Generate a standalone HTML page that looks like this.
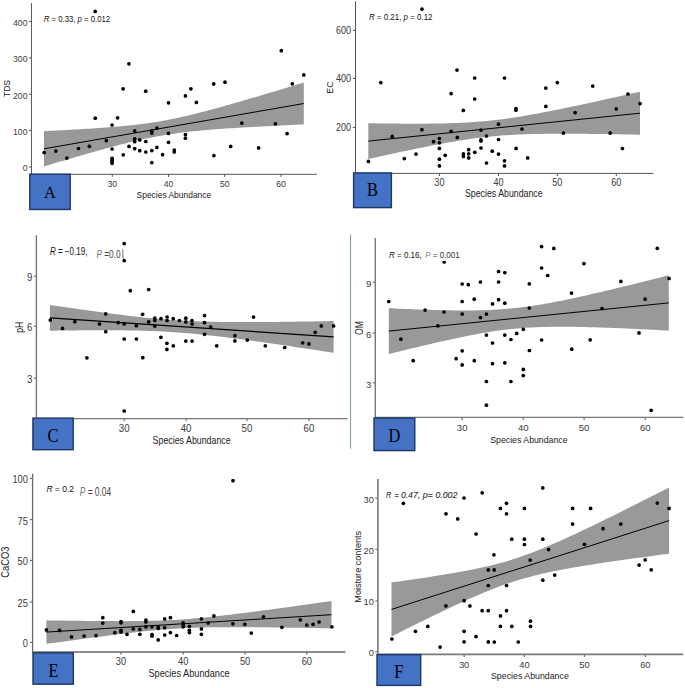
<!DOCTYPE html>
<html><head><meta charset="utf-8"><style>
html,body{margin:0;padding:0;background:#fff;}
svg{display:block;font-family:"Liberation Sans", sans-serif;}
</style></head><body>
<svg width="685" height="688" viewBox="0 0 685 688">
<rect width="685" height="688" fill="#fff"/>
<path d="M44.00,131.16 L47.25,131.00 L50.49,130.84 L53.74,130.67 L56.99,130.50 L60.24,130.33 L63.48,130.16 L66.73,129.98 L69.98,129.81 L73.23,129.62 L76.47,129.44 L79.72,129.25 L82.97,129.05 L86.22,128.85 L89.47,128.65 L92.71,128.44 L95.96,128.22 L99.21,128.00 L102.46,127.76 L105.70,127.52 L108.95,127.28 L112.20,127.02 L115.45,126.75 L118.69,126.47 L121.94,126.17 L125.19,125.86 L128.44,125.54 L131.68,125.20 L134.93,124.84 L138.18,124.46 L141.43,124.06 L144.67,123.63 L147.92,123.19 L151.17,122.72 L154.42,122.22 L157.66,121.69 L160.91,121.14 L164.16,120.56 L167.41,119.96 L170.65,119.32 L173.90,118.66 L177.15,117.98 L180.40,117.27 L183.64,116.54 L186.89,115.79 L190.14,115.02 L193.39,114.23 L196.63,113.42 L199.88,112.60 L203.13,111.76 L206.38,110.91 L209.62,110.05 L212.87,109.17 L216.12,108.29 L219.37,107.40 L222.61,106.50 L225.86,105.59 L229.11,104.67 L232.36,103.75 L235.60,102.82 L238.85,101.89 L242.10,100.95 L245.34,100.01 L248.59,99.07 L251.84,98.12 L255.09,97.16 L258.33,96.21 L261.58,95.25 L264.83,94.28 L268.08,93.32 L271.32,92.35 L274.57,91.38 L277.82,90.41 L281.07,89.44 L284.31,88.46 L287.56,87.49 L290.81,86.51 L294.06,85.53 L297.31,84.55 L300.55,83.56 L303.80,82.58 L303.80,124.42 L300.55,124.57 L297.31,124.72 L294.06,124.87 L290.81,125.02 L287.56,125.18 L284.31,125.33 L281.07,125.49 L277.82,125.65 L274.57,125.81 L271.32,125.97 L268.08,126.14 L264.83,126.31 L261.58,126.48 L258.33,126.65 L255.09,126.82 L251.84,127.00 L248.59,127.19 L245.34,127.37 L242.10,127.56 L238.85,127.76 L235.60,127.96 L232.36,128.16 L229.11,128.37 L225.86,128.59 L222.61,128.82 L219.37,129.05 L216.12,129.29 L212.87,129.54 L209.62,129.80 L206.38,130.07 L203.13,130.35 L199.88,130.64 L196.63,130.95 L193.39,131.28 L190.14,131.62 L186.89,131.98 L183.64,132.36 L180.40,132.76 L177.15,133.19 L173.90,133.64 L170.65,134.11 L167.41,134.61 L164.16,135.14 L160.91,135.69 L157.66,136.27 L154.42,136.88 L151.17,137.51 L147.92,138.17 L144.67,138.86 L141.43,139.57 L138.18,140.30 L134.93,141.05 L131.68,141.83 L128.44,142.62 L125.19,143.42 L121.94,144.25 L118.69,145.09 L115.45,145.94 L112.20,146.80 L108.95,147.67 L105.70,148.56 L102.46,149.45 L99.21,150.35 L95.96,151.26 L92.71,152.18 L89.47,153.10 L86.22,154.03 L82.97,154.96 L79.72,155.90 L76.47,156.84 L73.23,157.78 L69.98,158.73 L66.73,159.69 L63.48,160.65 L60.24,161.60 L56.99,162.57 L53.74,163.53 L50.49,164.50 L47.25,165.47 L44.00,166.44Z" fill="#999999"/>
<line x1="44.0" y1="148.8" x2="303.8" y2="103.5" stroke="#000" stroke-width="1.0"/>
<circle cx="95.2" cy="11.4" r="1.85"/>
<circle cx="128.9" cy="63.8" r="1.85"/>
<circle cx="281.3" cy="50.7" r="1.85"/>
<circle cx="123.1" cy="88.8" r="1.85"/>
<circle cx="145.7" cy="91.2" r="1.85"/>
<circle cx="185.4" cy="95.9" r="1.85"/>
<circle cx="190.9" cy="88.8" r="1.85"/>
<circle cx="213.7" cy="83.9" r="1.85"/>
<circle cx="225.0" cy="82.2" r="1.85"/>
<circle cx="292.3" cy="83.8" r="1.85"/>
<circle cx="303.8" cy="74.9" r="1.85"/>
<circle cx="95.3" cy="118.2" r="1.85"/>
<circle cx="117.6" cy="117.8" r="1.85"/>
<circle cx="112.1" cy="125.0" r="1.85"/>
<circle cx="168.5" cy="102.8" r="1.85"/>
<circle cx="196.4" cy="102.4" r="1.85"/>
<circle cx="44.2" cy="152.6" r="1.85"/>
<circle cx="55.8" cy="151.1" r="1.85"/>
<circle cx="66.8" cy="158.1" r="1.85"/>
<circle cx="78.5" cy="148.5" r="1.85"/>
<circle cx="89.4" cy="146.3" r="1.85"/>
<circle cx="106.3" cy="140.7" r="1.85"/>
<circle cx="112.1" cy="149.0" r="1.85"/>
<circle cx="112.1" cy="158.3" r="1.85"/>
<circle cx="112.1" cy="160.0" r="1.85"/>
<circle cx="112.1" cy="161.6" r="1.85"/>
<circle cx="112.1" cy="163.3" r="1.85"/>
<circle cx="123.2" cy="154.8" r="1.85"/>
<circle cx="129.0" cy="146.4" r="1.85"/>
<circle cx="134.7" cy="130.9" r="1.85"/>
<circle cx="134.7" cy="138.8" r="1.85"/>
<circle cx="134.7" cy="141.7" r="1.85"/>
<circle cx="134.7" cy="148.7" r="1.85"/>
<circle cx="139.7" cy="139.9" r="1.85"/>
<circle cx="139.7" cy="150.7" r="1.85"/>
<circle cx="145.8" cy="141.5" r="1.85"/>
<circle cx="145.8" cy="152.0" r="1.85"/>
<circle cx="151.8" cy="131.2" r="1.85"/>
<circle cx="151.8" cy="133.1" r="1.85"/>
<circle cx="151.8" cy="150.6" r="1.85"/>
<circle cx="151.8" cy="162.6" r="1.85"/>
<circle cx="156.9" cy="128.0" r="1.85"/>
<circle cx="156.9" cy="147.4" r="1.85"/>
<circle cx="162.6" cy="154.7" r="1.85"/>
<circle cx="168.5" cy="133.4" r="1.85"/>
<circle cx="168.5" cy="142.3" r="1.85"/>
<circle cx="174.3" cy="150.1" r="1.85"/>
<circle cx="174.3" cy="152.0" r="1.85"/>
<circle cx="185.4" cy="134.5" r="1.85"/>
<circle cx="185.4" cy="138.2" r="1.85"/>
<circle cx="213.9" cy="155.6" r="1.85"/>
<circle cx="241.8" cy="123.1" r="1.85"/>
<circle cx="275.4" cy="123.8" r="1.85"/>
<circle cx="287.1" cy="133.6" r="1.85"/>
<circle cx="230.7" cy="146.4" r="1.85"/>
<circle cx="258.6" cy="147.9" r="1.85"/>
<path d="M31.45,3.2 L31.45,174.3 L316.9,174.3" fill="none" stroke="#555" stroke-width="1.0"/>
<line x1="28.849999999999998" y1="167.0" x2="31.45" y2="167.0" stroke="#555" stroke-width="1.0"/>
<text transform="translate(27.45,171.40) scale(0.91,1)" text-anchor="end" font-size="9.5" fill="#3a3a3a">0</text>
<line x1="28.849999999999998" y1="130.6" x2="31.45" y2="130.6" stroke="#555" stroke-width="1.0"/>
<text transform="translate(27.45,135.00) scale(0.91,1)" text-anchor="end" font-size="9.5" fill="#3a3a3a">100</text>
<line x1="28.849999999999998" y1="94.2" x2="31.45" y2="94.2" stroke="#555" stroke-width="1.0"/>
<text transform="translate(27.45,98.60) scale(0.91,1)" text-anchor="end" font-size="9.5" fill="#3a3a3a">200</text>
<line x1="28.849999999999998" y1="57.9" x2="31.45" y2="57.9" stroke="#555" stroke-width="1.0"/>
<text transform="translate(27.45,62.30) scale(0.91,1)" text-anchor="end" font-size="9.5" fill="#3a3a3a">300</text>
<line x1="28.849999999999998" y1="21.5" x2="31.45" y2="21.5" stroke="#555" stroke-width="1.0"/>
<text transform="translate(27.45,25.90) scale(0.91,1)" text-anchor="end" font-size="9.5" fill="#3a3a3a">400</text>
<line x1="112.3" y1="174.3" x2="112.3" y2="176.9" stroke="#555" stroke-width="1.0"/>
<text transform="translate(112.3,186.6) scale(0.91,1)" text-anchor="middle" font-size="9.5" fill="#3a3a3a">30</text>
<line x1="168.5" y1="174.3" x2="168.5" y2="176.9" stroke="#555" stroke-width="1.0"/>
<text transform="translate(168.5,186.6) scale(0.91,1)" text-anchor="middle" font-size="9.5" fill="#3a3a3a">40</text>
<line x1="224.7" y1="174.3" x2="224.7" y2="176.9" stroke="#555" stroke-width="1.0"/>
<text transform="translate(224.7,186.6) scale(0.91,1)" text-anchor="middle" font-size="9.5" fill="#3a3a3a">50</text>
<line x1="281.1" y1="174.3" x2="281.1" y2="176.9" stroke="#555" stroke-width="1.0"/>
<text transform="translate(281.1,186.6) scale(0.91,1)" text-anchor="middle" font-size="9.5" fill="#3a3a3a">60</text>
<text x="136.6" y="197.7" font-size="9.8" fill="#222" textLength="74.6" lengthAdjust="spacingAndGlyphs">Species Abundance</text>
<text transform="translate(10.0,88.5) rotate(-90)" x="0" y="0" text-anchor="middle" font-size="9.8" fill="#222" textLength="17.0" lengthAdjust="spacingAndGlyphs">TDS</text>
<text x="43.8" y="21.9" font-size="9.6" fill="#111" textLength="66.3" lengthAdjust="spacingAndGlyphs"><tspan font-style="italic">R</tspan> = 0.33, <tspan font-style="italic">p</tspan> = 0.012</text>
<rect x="29.8" y="174.2" width="40.39999999999999" height="35.3" fill="#4472c4" stroke="#1f3763" stroke-width="1.4"/>
<text transform="translate(50.0,198.1) scale(0.93,1)" text-anchor="middle" font-family="\"Liberation Serif\", serif" font-size="17.6" fill="#000">A</text>
<path d="M368.30,123.24 L371.70,123.29 L375.09,123.34 L378.49,123.39 L381.88,123.43 L385.28,123.48 L388.68,123.52 L392.07,123.55 L395.47,123.58 L398.87,123.61 L402.26,123.63 L405.66,123.65 L409.06,123.67 L412.45,123.67 L415.85,123.68 L419.24,123.67 L422.64,123.66 L426.04,123.64 L429.43,123.61 L432.83,123.57 L436.23,123.53 L439.62,123.47 L443.02,123.40 L446.41,123.32 L449.81,123.22 L453.21,123.11 L456.60,122.99 L460.00,122.84 L463.39,122.68 L466.79,122.50 L470.19,122.29 L473.58,122.07 L476.98,121.82 L480.38,121.55 L483.77,121.25 L487.17,120.93 L490.56,120.58 L493.96,120.20 L497.36,119.81 L500.75,119.38 L504.15,118.94 L507.55,118.47 L510.94,117.97 L514.34,117.46 L517.74,116.93 L521.13,116.38 L524.53,115.81 L527.92,115.22 L531.32,114.62 L534.72,114.01 L538.11,113.38 L541.51,112.74 L544.90,112.09 L548.30,111.43 L551.70,110.76 L555.09,110.08 L558.49,109.40 L561.89,108.71 L565.28,108.01 L568.68,107.30 L572.08,106.59 L575.47,105.88 L578.87,105.16 L582.26,104.43 L585.66,103.70 L589.06,102.97 L592.45,102.23 L595.85,101.49 L599.25,100.75 L602.64,100.01 L606.04,99.26 L609.43,98.51 L612.83,97.76 L616.23,97.00 L619.62,96.25 L623.02,95.49 L626.41,94.73 L629.81,93.97 L633.21,93.20 L636.60,92.44 L640.00,91.67 L640.00,134.73 L636.60,134.66 L633.21,134.59 L629.81,134.53 L626.41,134.46 L623.02,134.40 L619.62,134.34 L616.23,134.28 L612.83,134.22 L609.43,134.17 L606.04,134.12 L602.64,134.07 L599.25,134.02 L595.85,133.97 L592.45,133.93 L589.06,133.89 L585.66,133.86 L582.26,133.83 L578.87,133.80 L575.47,133.78 L572.08,133.76 L568.68,133.75 L565.28,133.74 L561.89,133.74 L558.49,133.74 L555.09,133.75 L551.70,133.77 L548.30,133.80 L544.90,133.84 L541.51,133.89 L538.11,133.95 L534.72,134.02 L531.32,134.10 L527.92,134.20 L524.53,134.31 L521.13,134.44 L517.74,134.58 L514.34,134.75 L510.94,134.93 L507.55,135.14 L504.15,135.36 L500.75,135.61 L497.36,135.89 L493.96,136.19 L490.56,136.51 L487.17,136.86 L483.77,137.24 L480.38,137.64 L476.98,138.06 L473.58,138.51 L470.19,138.98 L466.79,139.48 L463.39,139.99 L460.00,140.53 L456.60,141.08 L453.21,141.65 L449.81,142.24 L446.41,142.84 L443.02,143.45 L439.62,144.08 L436.23,144.72 L432.83,145.37 L429.43,146.03 L426.04,146.70 L422.64,147.38 L419.24,148.07 L415.85,148.76 L412.45,149.46 L409.06,150.16 L405.66,150.88 L402.26,151.59 L398.87,152.31 L395.47,153.04 L392.07,153.77 L388.68,154.50 L385.28,155.24 L381.88,155.98 L378.49,156.72 L375.09,157.46 L371.70,158.21 L368.30,158.96Z" fill="#999999"/>
<line x1="368.3" y1="141.1" x2="640.0" y2="113.2" stroke="#000" stroke-width="1.0"/>
<circle cx="422.0" cy="9.1" r="1.85"/>
<circle cx="380.8" cy="82.6" r="1.85"/>
<circle cx="457.0" cy="70.1" r="1.85"/>
<circle cx="474.7" cy="78.0" r="1.85"/>
<circle cx="504.5" cy="78.0" r="1.85"/>
<circle cx="451.1" cy="93.6" r="1.85"/>
<circle cx="474.7" cy="99.0" r="1.85"/>
<circle cx="463.3" cy="110.4" r="1.85"/>
<circle cx="515.9" cy="108.6" r="1.85"/>
<circle cx="515.9" cy="110.2" r="1.85"/>
<circle cx="545.8" cy="88.1" r="1.85"/>
<circle cx="557.3" cy="82.6" r="1.85"/>
<circle cx="545.8" cy="106.4" r="1.85"/>
<circle cx="592.7" cy="86.1" r="1.85"/>
<circle cx="627.9" cy="94.0" r="1.85"/>
<circle cx="640.0" cy="103.6" r="1.85"/>
<circle cx="616.3" cy="108.9" r="1.85"/>
<circle cx="575.1" cy="112.6" r="1.85"/>
<circle cx="563.4" cy="133.1" r="1.85"/>
<circle cx="610.2" cy="133.1" r="1.85"/>
<circle cx="622.4" cy="148.5" r="1.85"/>
<circle cx="421.9" cy="129.7" r="1.85"/>
<circle cx="392.2" cy="136.4" r="1.85"/>
<circle cx="451.1" cy="131.4" r="1.85"/>
<circle cx="439.4" cy="138.5" r="1.85"/>
<circle cx="433.5" cy="141.7" r="1.85"/>
<circle cx="439.4" cy="142.8" r="1.85"/>
<circle cx="439.4" cy="148.4" r="1.85"/>
<circle cx="445.2" cy="155.3" r="1.85"/>
<circle cx="416.0" cy="154.1" r="1.85"/>
<circle cx="404.3" cy="158.6" r="1.85"/>
<circle cx="368.4" cy="161.4" r="1.85"/>
<circle cx="439.4" cy="159.2" r="1.85"/>
<circle cx="439.4" cy="165.9" r="1.85"/>
<circle cx="457.3" cy="137.4" r="1.85"/>
<circle cx="481.0" cy="130.1" r="1.85"/>
<circle cx="498.5" cy="124.2" r="1.85"/>
<circle cx="522.0" cy="129.0" r="1.85"/>
<circle cx="486.5" cy="136.0" r="1.85"/>
<circle cx="481.0" cy="139.9" r="1.85"/>
<circle cx="481.0" cy="141.1" r="1.85"/>
<circle cx="498.5" cy="139.5" r="1.85"/>
<circle cx="481.0" cy="148.0" r="1.85"/>
<circle cx="516.1" cy="148.4" r="1.85"/>
<circle cx="468.7" cy="149.7" r="1.85"/>
<circle cx="474.8" cy="152.3" r="1.85"/>
<circle cx="492.3" cy="151.2" r="1.85"/>
<circle cx="463.4" cy="153.8" r="1.85"/>
<circle cx="463.4" cy="156.4" r="1.85"/>
<circle cx="468.7" cy="153.8" r="1.85"/>
<circle cx="468.7" cy="157.9" r="1.85"/>
<circle cx="498.5" cy="154.1" r="1.85"/>
<circle cx="527.7" cy="157.9" r="1.85"/>
<circle cx="486.5" cy="163.0" r="1.85"/>
<circle cx="504.5" cy="160.8" r="1.85"/>
<circle cx="504.5" cy="165.9" r="1.85"/>
<path d="M355.5,1.2 L355.5,173.4 L653.5,173.4" fill="none" stroke="#555555" stroke-width="1.0"/>
<line x1="352.9" y1="127.4" x2="355.5" y2="127.4" stroke="#555555" stroke-width="1.0"/>
<text transform="translate(351.1,131.30) scale(0.9,1)" text-anchor="end" font-size="10.1" fill="#3a3a3a">200</text>
<line x1="352.9" y1="78.5" x2="355.5" y2="78.5" stroke="#555555" stroke-width="1.0"/>
<text transform="translate(351.1,82.40) scale(0.9,1)" text-anchor="end" font-size="10.1" fill="#3a3a3a">400</text>
<line x1="352.9" y1="30.4" x2="355.5" y2="30.4" stroke="#555555" stroke-width="1.0"/>
<text transform="translate(351.1,34.30) scale(0.9,1)" text-anchor="end" font-size="10.1" fill="#3a3a3a">600</text>
<line x1="439.4" y1="173.4" x2="439.4" y2="176.0" stroke="#555555" stroke-width="1.0"/>
<text transform="translate(439.4,185.6) scale(0.9,1)" text-anchor="middle" font-size="10.1" fill="#3a3a3a">30</text>
<line x1="498.5" y1="173.4" x2="498.5" y2="176.0" stroke="#555555" stroke-width="1.0"/>
<text transform="translate(498.5,185.6) scale(0.9,1)" text-anchor="middle" font-size="10.1" fill="#3a3a3a">40</text>
<line x1="557.3" y1="173.4" x2="557.3" y2="176.0" stroke="#555555" stroke-width="1.0"/>
<text transform="translate(557.3,185.6) scale(0.9,1)" text-anchor="middle" font-size="10.1" fill="#3a3a3a">50</text>
<line x1="616.3" y1="173.4" x2="616.3" y2="176.0" stroke="#555555" stroke-width="1.0"/>
<text transform="translate(616.3,185.6) scale(0.9,1)" text-anchor="middle" font-size="10.1" fill="#3a3a3a">60</text>
<text x="465.0" y="196.9" font-size="10.0" fill="#222" textLength="77.6" lengthAdjust="spacingAndGlyphs">Species Abundance</text>
<text transform="translate(333.4,87.5) rotate(-90)" x="0" y="0" text-anchor="middle" font-size="9.8" fill="#222" textLength="12.4" lengthAdjust="spacingAndGlyphs">EC</text>
<text x="368.9" y="19.6" font-size="9.6" fill="#111" textLength="63.6" lengthAdjust="spacingAndGlyphs"><tspan font-style="italic">R</tspan> = 0.21, <tspan font-style="italic">p</tspan> = 0.12</text>
<rect x="353.6" y="172.9" width="37.8" height="34.699999999999974" fill="#4472c4" stroke="#1f3763" stroke-width="1.4"/>
<text transform="translate(372.4,196.4) scale(0.88,1)" text-anchor="middle" font-family="\"Liberation Serif\", serif" font-size="18.6" fill="#000">B</text>
<path d="M49.90,304.91 L53.45,305.43 L56.99,305.96 L60.54,306.48 L64.09,307.00 L67.63,307.52 L71.18,308.03 L74.72,308.54 L78.27,309.05 L81.82,309.56 L85.36,310.06 L88.91,310.56 L92.46,311.05 L96.00,311.54 L99.55,312.03 L103.09,312.51 L106.64,312.99 L110.19,313.46 L113.73,313.92 L117.28,314.37 L120.83,314.82 L124.37,315.26 L127.92,315.69 L131.46,316.11 L135.01,316.52 L138.56,316.92 L142.10,317.31 L145.65,317.69 L149.20,318.05 L152.74,318.39 L156.29,318.73 L159.83,319.04 L163.38,319.34 L166.93,319.62 L170.47,319.89 L174.02,320.14 L177.56,320.37 L181.11,320.58 L184.66,320.77 L188.20,320.95 L191.75,321.11 L195.30,321.26 L198.84,321.39 L202.39,321.50 L205.94,321.61 L209.48,321.70 L213.03,321.77 L216.57,321.84 L220.12,321.90 L223.67,321.94 L227.21,321.98 L230.76,322.01 L234.31,322.03 L237.85,322.05 L241.40,322.06 L244.94,322.06 L248.49,322.06 L252.04,322.05 L255.58,322.03 L259.13,322.02 L262.68,322.00 L266.22,321.97 L269.77,321.94 L273.31,321.91 L276.86,321.88 L280.41,321.84 L283.95,321.80 L287.50,321.76 L291.05,321.71 L294.59,321.66 L298.14,321.62 L301.68,321.57 L305.23,321.51 L308.78,321.46 L312.32,321.41 L315.87,321.35 L319.42,321.29 L322.96,321.23 L326.51,321.17 L330.05,321.11 L333.60,321.05 L333.60,352.75 L330.05,352.21 L326.51,351.67 L322.96,351.13 L319.42,350.60 L315.87,350.06 L312.32,349.53 L308.78,349.00 L305.23,348.47 L301.68,347.94 L298.14,347.41 L294.59,346.88 L291.05,346.36 L287.50,345.84 L283.95,345.32 L280.41,344.80 L276.86,344.28 L273.31,343.77 L269.77,343.26 L266.22,342.76 L262.68,342.25 L259.13,341.76 L255.58,341.26 L252.04,340.77 L248.49,340.28 L244.94,339.80 L241.40,339.33 L237.85,338.86 L234.31,338.40 L230.76,337.94 L227.21,337.49 L223.67,337.05 L220.12,336.62 L216.57,336.20 L213.03,335.79 L209.48,335.39 L205.94,335.00 L202.39,334.63 L198.84,334.27 L195.30,333.92 L191.75,333.59 L188.20,333.27 L184.66,332.97 L181.11,332.69 L177.56,332.42 L174.02,332.18 L170.47,331.95 L166.93,331.73 L163.38,331.54 L159.83,331.36 L156.29,331.20 L152.74,331.05 L149.20,330.92 L145.65,330.81 L142.10,330.70 L138.56,330.61 L135.01,330.54 L131.46,330.47 L127.92,330.41 L124.37,330.37 L120.83,330.33 L117.28,330.30 L113.73,330.28 L110.19,330.26 L106.64,330.25 L103.09,330.25 L99.55,330.25 L96.00,330.26 L92.46,330.28 L88.91,330.29 L85.36,330.31 L81.82,330.34 L78.27,330.37 L74.72,330.40 L71.18,330.43 L67.63,330.47 L64.09,330.51 L60.54,330.55 L56.99,330.60 L53.45,330.64 L49.90,330.69Z" fill="#999999"/>
<line x1="49.9" y1="317.8" x2="333.6" y2="336.9" stroke="#000" stroke-width="1.3"/>
<circle cx="124.2" cy="243.6" r="1.85"/>
<circle cx="124.2" cy="260.6" r="1.85"/>
<circle cx="130.3" cy="290.7" r="1.85"/>
<circle cx="148.7" cy="289.5" r="1.85"/>
<circle cx="50.3" cy="320.1" r="1.85"/>
<circle cx="62.5" cy="328.4" r="1.85"/>
<circle cx="74.8" cy="321.7" r="1.85"/>
<circle cx="99.5" cy="324.0" r="1.85"/>
<circle cx="105.7" cy="313.8" r="1.85"/>
<circle cx="105.7" cy="331.7" r="1.85"/>
<circle cx="118.2" cy="322.6" r="1.85"/>
<circle cx="124.2" cy="324.0" r="1.85"/>
<circle cx="136.4" cy="325.7" r="1.85"/>
<circle cx="142.6" cy="314.3" r="1.85"/>
<circle cx="148.7" cy="321.9" r="1.85"/>
<circle cx="154.8" cy="318.2" r="1.85"/>
<circle cx="154.8" cy="320.5" r="1.85"/>
<circle cx="154.8" cy="326.1" r="1.85"/>
<circle cx="161.0" cy="318.7" r="1.85"/>
<circle cx="167.1" cy="317.0" r="1.85"/>
<circle cx="167.1" cy="320.5" r="1.85"/>
<circle cx="173.2" cy="318.7" r="1.85"/>
<circle cx="179.4" cy="320.5" r="1.85"/>
<circle cx="185.8" cy="318.2" r="1.85"/>
<circle cx="185.8" cy="321.9" r="1.85"/>
<circle cx="192.0" cy="320.5" r="1.85"/>
<circle cx="192.0" cy="324.0" r="1.85"/>
<circle cx="204.5" cy="315.6" r="1.85"/>
<circle cx="204.5" cy="322.6" r="1.85"/>
<circle cx="210.7" cy="327.0" r="1.85"/>
<circle cx="204.5" cy="334.3" r="1.85"/>
<circle cx="124.2" cy="339.0" r="1.85"/>
<circle cx="136.4" cy="339.0" r="1.85"/>
<circle cx="160.9" cy="337.3" r="1.85"/>
<circle cx="166.9" cy="343.3" r="1.85"/>
<circle cx="166.9" cy="349.4" r="1.85"/>
<circle cx="173.3" cy="345.8" r="1.85"/>
<circle cx="185.8" cy="341.1" r="1.85"/>
<circle cx="192.1" cy="341.1" r="1.85"/>
<circle cx="216.7" cy="345.8" r="1.85"/>
<circle cx="86.9" cy="357.8" r="1.85"/>
<circle cx="142.8" cy="357.7" r="1.85"/>
<circle cx="124.2" cy="411.0" r="1.85"/>
<circle cx="253.5" cy="317.1" r="1.85"/>
<circle cx="234.9" cy="335.7" r="1.85"/>
<circle cx="234.9" cy="340.9" r="1.85"/>
<circle cx="247.3" cy="340.1" r="1.85"/>
<circle cx="265.3" cy="345.8" r="1.85"/>
<circle cx="284.7" cy="347.5" r="1.85"/>
<circle cx="302.7" cy="342.8" r="1.85"/>
<circle cx="308.9" cy="343.9" r="1.85"/>
<circle cx="315.2" cy="332.3" r="1.85"/>
<circle cx="321.3" cy="325.9" r="1.85"/>
<circle cx="333.6" cy="325.9" r="1.85"/>
<path d="M36.4,235.2 L36.4,418.6 L347.6,418.6" fill="none" stroke="#787878" stroke-width="1.4"/>
<line x1="33.8" y1="378.2" x2="36.4" y2="378.2" stroke="#787878" stroke-width="1.2"/>
<text transform="translate(32.4,382.60) scale(0.95,1)" text-anchor="end" font-size="10.2" fill="#3a3a3a">3</text>
<line x1="33.8" y1="326.3" x2="36.4" y2="326.3" stroke="#787878" stroke-width="1.2"/>
<text transform="translate(32.4,330.70) scale(0.95,1)" text-anchor="end" font-size="10.2" fill="#3a3a3a">6</text>
<line x1="33.8" y1="276.2" x2="36.4" y2="276.2" stroke="#787878" stroke-width="1.2"/>
<text transform="translate(32.4,280.60) scale(0.95,1)" text-anchor="end" font-size="10.2" fill="#3a3a3a">9</text>
<line x1="124.2" y1="418.6" x2="124.2" y2="421.20000000000005" stroke="#787878" stroke-width="1.2"/>
<text transform="translate(124.2,432.1) scale(0.95,1)" text-anchor="middle" font-size="10.2" fill="#3a3a3a">30</text>
<line x1="186.1" y1="418.6" x2="186.1" y2="421.20000000000005" stroke="#787878" stroke-width="1.2"/>
<text transform="translate(186.1,432.1) scale(0.95,1)" text-anchor="middle" font-size="10.2" fill="#3a3a3a">40</text>
<line x1="246.9" y1="418.6" x2="246.9" y2="421.20000000000005" stroke="#787878" stroke-width="1.2"/>
<text transform="translate(246.9,432.1) scale(0.95,1)" text-anchor="middle" font-size="10.2" fill="#3a3a3a">50</text>
<line x1="309.0" y1="418.6" x2="309.0" y2="421.20000000000005" stroke="#787878" stroke-width="1.2"/>
<text transform="translate(309.0,432.1) scale(0.95,1)" text-anchor="middle" font-size="10.2" fill="#3a3a3a">60</text>
<text x="152.6" y="444.3" font-size="10.6" fill="#222" textLength="78.1" lengthAdjust="spacingAndGlyphs">Species Abundance</text>
<text transform="translate(22.6,327.3) rotate(-90)" x="0" y="0" text-anchor="middle" font-size="10.4" fill="#222" textLength="11.0" lengthAdjust="spacingAndGlyphs">pH</text>
<text x="49.9" y="254.7" font-size="10" fill="#111" textLength="37.5" lengthAdjust="spacingAndGlyphs"><tspan font-style="italic">R</tspan> = −0.19,</text>
<text x="96.4" y="258.4" font-size="11.8" fill="#555" textLength="24.2" lengthAdjust="spacingAndGlyphs"><tspan font-style="italic" fill="#777">P</tspan><tspan fill="#444"> =0.0</tspan></text>
<path d="M122.0,249.8 L122.9,249.8 L122.9,258.4 L124.0,258.4" fill="none" stroke="#666" stroke-width="0.9"/>
<line x1="350.6" y1="234.6" x2="350.6" y2="448.7" stroke="#7d999e" stroke-width="1"/>
<rect x="32.9" y="418.1" width="40.3" height="31.600000000000012" fill="#4472c4" stroke="#1f3763" stroke-width="1.4"/>
<text transform="translate(52.9,442.0) scale(0.88,1)" text-anchor="middle" font-family="\"Liberation Serif\", serif" font-size="18.6" fill="#000">C</text>
<circle cx="444.2" cy="262.0" r="1.85"/>
<path d="M388.80,308.19 L392.30,308.35 L395.80,308.51 L399.30,308.66 L402.80,308.81 L406.30,308.96 L409.80,309.11 L413.30,309.24 L416.80,309.38 L420.30,309.51 L423.80,309.63 L427.30,309.75 L430.80,309.86 L434.30,309.96 L437.80,310.06 L441.30,310.14 L444.80,310.22 L448.30,310.29 L451.80,310.35 L455.30,310.39 L458.80,310.42 L462.30,310.44 L465.80,310.45 L469.30,310.43 L472.80,310.40 L476.30,310.35 L479.80,310.28 L483.30,310.19 L486.80,310.07 L490.30,309.93 L493.80,309.76 L497.30,309.56 L500.80,309.34 L504.30,309.08 L507.80,308.79 L511.30,308.47 L514.80,308.12 L518.30,307.73 L521.80,307.31 L525.30,306.87 L528.80,306.39 L532.30,305.88 L535.80,305.34 L539.30,304.78 L542.80,304.19 L546.30,303.58 L549.80,302.94 L553.30,302.29 L556.80,301.61 L560.30,300.92 L563.80,300.21 L567.30,299.49 L570.80,298.75 L574.30,298.00 L577.80,297.23 L581.30,296.46 L584.80,295.68 L588.30,294.89 L591.80,294.09 L595.30,293.28 L598.80,292.46 L602.30,291.64 L605.80,290.81 L609.30,289.98 L612.80,289.14 L616.30,288.29 L619.80,287.45 L623.30,286.59 L626.80,285.74 L630.30,284.88 L633.80,284.01 L637.30,283.15 L640.80,282.28 L644.30,281.40 L647.80,280.53 L651.30,279.65 L654.80,278.77 L658.30,277.89 L661.80,277.01 L665.30,276.12 L668.80,275.24 L668.80,330.56 L665.30,330.38 L661.80,330.20 L658.30,330.02 L654.80,329.85 L651.30,329.67 L647.80,329.50 L644.30,329.33 L640.80,329.16 L637.30,329.00 L633.80,328.84 L630.30,328.68 L626.80,328.52 L623.30,328.37 L619.80,328.22 L616.30,328.08 L612.80,327.94 L609.30,327.81 L605.80,327.68 L602.30,327.56 L598.80,327.44 L595.30,327.33 L591.80,327.22 L588.30,327.13 L584.80,327.04 L581.30,326.96 L577.80,326.90 L574.30,326.84 L570.80,326.79 L567.30,326.76 L563.80,326.74 L560.30,326.74 L556.80,326.75 L553.30,326.78 L549.80,326.83 L546.30,326.90 L542.80,326.99 L539.30,327.11 L535.80,327.25 L532.30,327.42 L528.80,327.61 L525.30,327.84 L521.80,328.10 L518.30,328.38 L514.80,328.70 L511.30,329.05 L507.80,329.44 L504.30,329.86 L500.80,330.30 L497.30,330.78 L493.80,331.29 L490.30,331.83 L486.80,332.39 L483.30,332.98 L479.80,333.59 L476.30,334.22 L472.80,334.88 L469.30,335.55 L465.80,336.24 L462.30,336.95 L458.80,337.68 L455.30,338.41 L451.80,339.16 L448.30,339.93 L444.80,340.70 L441.30,341.48 L437.80,342.27 L434.30,343.07 L430.80,343.88 L427.30,344.70 L423.80,345.52 L420.30,346.35 L416.80,347.18 L413.30,348.02 L409.80,348.86 L406.30,349.71 L402.80,350.57 L399.30,351.42 L395.80,352.28 L392.30,353.15 L388.80,354.01Z" fill="#999999"/>
<line x1="388.8" y1="331.1" x2="668.8" y2="302.9" stroke="#000" stroke-width="1.0"/>
<circle cx="388.8" cy="301.5" r="1.85"/>
<circle cx="400.9" cy="339.2" r="1.85"/>
<circle cx="425.1" cy="310.1" r="1.85"/>
<circle cx="437.9" cy="325.8" r="1.85"/>
<circle cx="444.0" cy="312.0" r="1.85"/>
<circle cx="462.2" cy="284.0" r="1.85"/>
<circle cx="468.3" cy="284.7" r="1.85"/>
<circle cx="462.2" cy="301.5" r="1.85"/>
<circle cx="462.2" cy="314.1" r="1.85"/>
<circle cx="474.2" cy="299.2" r="1.85"/>
<circle cx="462.2" cy="350.8" r="1.85"/>
<circle cx="541.6" cy="246.6" r="1.85"/>
<circle cx="553.8" cy="248.4" r="1.85"/>
<circle cx="583.9" cy="263.6" r="1.85"/>
<circle cx="498.6" cy="271.5" r="1.85"/>
<circle cx="504.8" cy="272.6" r="1.85"/>
<circle cx="541.6" cy="268.0" r="1.85"/>
<circle cx="547.7" cy="275.5" r="1.85"/>
<circle cx="480.4" cy="282.0" r="1.85"/>
<circle cx="498.6" cy="282.0" r="1.85"/>
<circle cx="529.3" cy="283.8" r="1.85"/>
<circle cx="492.5" cy="303.9" r="1.85"/>
<circle cx="498.6" cy="299.7" r="1.85"/>
<circle cx="504.8" cy="303.2" r="1.85"/>
<circle cx="529.3" cy="308.0" r="1.85"/>
<circle cx="571.5" cy="293.1" r="1.85"/>
<circle cx="480.4" cy="317.6" r="1.85"/>
<circle cx="486.4" cy="314.1" r="1.85"/>
<circle cx="523.3" cy="329.3" r="1.85"/>
<circle cx="486.4" cy="335.1" r="1.85"/>
<circle cx="504.8" cy="335.1" r="1.85"/>
<circle cx="516.7" cy="333.4" r="1.85"/>
<circle cx="510.9" cy="339.5" r="1.85"/>
<circle cx="492.5" cy="343.0" r="1.85"/>
<circle cx="541.6" cy="340.0" r="1.85"/>
<circle cx="529.4" cy="350.5" r="1.85"/>
<circle cx="571.7" cy="349.2" r="1.85"/>
<circle cx="657.3" cy="248.3" r="1.85"/>
<circle cx="620.9" cy="281.4" r="1.85"/>
<circle cx="669.1" cy="278.5" r="1.85"/>
<circle cx="645.1" cy="299.2" r="1.85"/>
<circle cx="602.0" cy="308.5" r="1.85"/>
<circle cx="639.0" cy="332.9" r="1.85"/>
<circle cx="590.2" cy="339.8" r="1.85"/>
<circle cx="413.2" cy="360.7" r="1.85"/>
<circle cx="456.1" cy="358.7" r="1.85"/>
<circle cx="462.2" cy="364.9" r="1.85"/>
<circle cx="474.3" cy="360.7" r="1.85"/>
<circle cx="492.5" cy="363.7" r="1.85"/>
<circle cx="504.8" cy="362.8" r="1.85"/>
<circle cx="523.3" cy="369.4" r="1.85"/>
<circle cx="523.3" cy="375.6" r="1.85"/>
<circle cx="486.4" cy="381.5" r="1.85"/>
<circle cx="510.9" cy="381.5" r="1.85"/>
<circle cx="486.4" cy="405.2" r="1.85"/>
<circle cx="651.2" cy="410.3" r="1.85"/>
<path d="M375.3,238.0 L375.3,417.4 L683.4,417.4" fill="none" stroke="#787878" stroke-width="1.4"/>
<line x1="372.7" y1="382.9" x2="375.3" y2="382.9" stroke="#787878" stroke-width="1.2"/>
<text transform="translate(371.3,387.50) scale(0.97,1)" text-anchor="end" font-size="9.9" fill="#3a3a3a">3</text>
<line x1="372.7" y1="333.0" x2="375.3" y2="333.0" stroke="#787878" stroke-width="1.2"/>
<text transform="translate(371.3,337.60) scale(0.97,1)" text-anchor="end" font-size="9.9" fill="#3a3a3a">6</text>
<line x1="372.7" y1="282.2" x2="375.3" y2="282.2" stroke="#787878" stroke-width="1.2"/>
<text transform="translate(371.3,286.80) scale(0.97,1)" text-anchor="end" font-size="9.9" fill="#3a3a3a">9</text>
<line x1="462.2" y1="417.4" x2="462.2" y2="420.0" stroke="#787878" stroke-width="1.2"/>
<text transform="translate(462.2,430.7) scale(0.97,1)" text-anchor="middle" font-size="9.9" fill="#3a3a3a">30</text>
<line x1="523.3" y1="417.4" x2="523.3" y2="420.0" stroke="#787878" stroke-width="1.2"/>
<text transform="translate(523.3,430.7) scale(0.97,1)" text-anchor="middle" font-size="9.9" fill="#3a3a3a">40</text>
<line x1="584.1" y1="417.4" x2="584.1" y2="420.0" stroke="#787878" stroke-width="1.2"/>
<text transform="translate(584.1,430.7) scale(0.97,1)" text-anchor="middle" font-size="9.9" fill="#3a3a3a">50</text>
<line x1="645.3" y1="417.4" x2="645.3" y2="420.0" stroke="#787878" stroke-width="1.2"/>
<text transform="translate(645.3,430.7) scale(0.97,1)" text-anchor="middle" font-size="9.9" fill="#3a3a3a">60</text>
<text x="490.2" y="442.5" font-size="9.8" fill="#222" textLength="77.4" lengthAdjust="spacingAndGlyphs">Species Abundance</text>
<text transform="translate(362.6,328.1) rotate(-90)" x="0" y="0" text-anchor="middle" font-size="10.2" fill="#222" textLength="13.8" lengthAdjust="spacingAndGlyphs">OM</text>
<rect x="387" y="248" width="74" height="13.0" fill="#fff"/>
<text x="389.1" y="257.5" font-size="9.8" fill="#111" textLength="32.5" lengthAdjust="spacingAndGlyphs"><tspan font-style="italic">R</tspan> = 0.16,</text>
<text x="425.3" y="257.5" font-size="8.6" fill="#333" textLength="34.3" lengthAdjust="spacingAndGlyphs"><tspan font-style="italic" fill="#888">P</tspan> = 0.001</text>
<rect x="374.0" y="418.0" width="40.8" height="32.60000000000001" fill="#4472c4" stroke="#1f3763" stroke-width="1.4"/>
<text transform="translate(394.4,442.1) scale(0.88,1)" text-anchor="middle" font-family="\"Liberation Serif\", serif" font-size="18.6" fill="#000">D</text>
<path d="M46.40,620.34 L49.96,620.39 L53.53,620.45 L57.09,620.51 L60.66,620.56 L64.22,620.62 L67.78,620.67 L71.35,620.72 L74.91,620.77 L78.47,620.81 L82.04,620.86 L85.60,620.90 L89.16,620.94 L92.73,620.97 L96.29,621.01 L99.86,621.04 L103.42,621.07 L106.98,621.09 L110.55,621.11 L114.11,621.12 L117.68,621.13 L121.24,621.13 L124.80,621.13 L128.37,621.12 L131.93,621.10 L135.49,621.07 L139.06,621.03 L142.62,620.98 L146.19,620.92 L149.75,620.85 L153.31,620.76 L156.88,620.66 L160.44,620.54 L164.00,620.40 L167.57,620.25 L171.13,620.07 L174.70,619.88 L178.26,619.67 L181.82,619.43 L185.39,619.18 L188.95,618.90 L192.51,618.61 L196.08,618.30 L199.64,617.97 L203.21,617.63 L206.77,617.27 L210.33,616.90 L213.90,616.52 L217.46,616.12 L221.02,615.72 L224.59,615.30 L228.15,614.88 L231.72,614.45 L235.28,614.02 L238.84,613.58 L242.41,613.13 L245.97,612.68 L249.53,612.22 L253.10,611.76 L256.66,611.29 L260.22,610.83 L263.79,610.36 L267.35,609.88 L270.92,609.41 L274.48,608.93 L278.04,608.45 L281.61,607.96 L285.17,607.48 L288.74,606.99 L292.30,606.50 L295.86,606.01 L299.43,605.52 L302.99,605.03 L306.55,604.54 L310.12,604.04 L313.68,603.55 L317.25,603.05 L320.81,602.56 L324.37,602.06 L327.94,601.56 L331.50,601.06 L331.50,628.34 L327.94,628.27 L324.37,628.21 L320.81,628.15 L317.25,628.09 L313.68,628.03 L310.12,627.97 L306.55,627.91 L302.99,627.85 L299.43,627.79 L295.86,627.74 L292.30,627.68 L288.74,627.63 L285.17,627.58 L281.61,627.53 L278.04,627.48 L274.48,627.43 L270.92,627.39 L267.35,627.35 L263.79,627.31 L260.22,627.27 L256.66,627.24 L253.10,627.21 L249.53,627.19 L245.97,627.16 L242.41,627.15 L238.84,627.13 L235.28,627.13 L231.72,627.13 L228.15,627.13 L224.59,627.15 L221.02,627.17 L217.46,627.20 L213.90,627.24 L210.33,627.29 L206.77,627.35 L203.21,627.43 L199.64,627.52 L196.08,627.63 L192.51,627.76 L188.95,627.90 L185.39,628.06 L181.82,628.24 L178.26,628.44 L174.70,628.66 L171.13,628.90 L167.57,629.16 L164.00,629.44 L160.44,629.74 L156.88,630.05 L153.31,630.39 L149.75,630.73 L146.19,631.10 L142.62,631.47 L139.06,631.86 L135.49,632.25 L131.93,632.66 L128.37,633.08 L124.80,633.50 L121.24,633.93 L117.68,634.37 L114.11,634.81 L110.55,635.26 L106.98,635.72 L103.42,636.17 L99.86,636.64 L96.29,637.10 L92.73,637.57 L89.16,638.04 L85.60,638.52 L82.04,638.99 L78.47,639.47 L74.91,639.95 L71.35,640.44 L67.78,640.92 L64.22,641.41 L60.66,641.90 L57.09,642.39 L53.53,642.88 L49.96,643.37 L46.40,643.86Z" fill="#999999"/>
<line x1="46.4" y1="632.1" x2="331.5" y2="614.7" stroke="#000" stroke-width="1.0"/>
<circle cx="233.0" cy="480.7" r="1.85"/>
<circle cx="46.4" cy="629.9" r="1.85"/>
<circle cx="59.6" cy="630.4" r="1.85"/>
<circle cx="71.5" cy="636.9" r="1.85"/>
<circle cx="84.1" cy="636.0" r="1.85"/>
<circle cx="96.0" cy="635.7" r="1.85"/>
<circle cx="102.8" cy="617.7" r="1.85"/>
<circle cx="102.8" cy="623.1" r="1.85"/>
<circle cx="114.8" cy="632.7" r="1.85"/>
<circle cx="121.0" cy="621.5" r="1.85"/>
<circle cx="121.0" cy="622.8" r="1.85"/>
<circle cx="121.0" cy="630.3" r="1.85"/>
<circle cx="121.0" cy="632.0" r="1.85"/>
<circle cx="127.0" cy="634.3" r="1.85"/>
<circle cx="133.3" cy="611.4" r="1.85"/>
<circle cx="133.3" cy="628.9" r="1.85"/>
<circle cx="139.8" cy="629.4" r="1.85"/>
<circle cx="139.8" cy="634.3" r="1.85"/>
<circle cx="145.9" cy="620.1" r="1.85"/>
<circle cx="145.9" cy="621.9" r="1.85"/>
<circle cx="145.9" cy="626.8" r="1.85"/>
<circle cx="152.0" cy="626.8" r="1.85"/>
<circle cx="152.0" cy="634.7" r="1.85"/>
<circle cx="152.0" cy="636.1" r="1.85"/>
<circle cx="158.2" cy="626.8" r="1.85"/>
<circle cx="158.2" cy="628.5" r="1.85"/>
<circle cx="158.2" cy="639.9" r="1.85"/>
<circle cx="164.7" cy="618.9" r="1.85"/>
<circle cx="164.7" cy="627.7" r="1.85"/>
<circle cx="164.7" cy="635.0" r="1.85"/>
<circle cx="170.4" cy="617.7" r="1.85"/>
<circle cx="170.4" cy="632.6" r="1.85"/>
<circle cx="176.6" cy="635.5" r="1.85"/>
<circle cx="183.2" cy="622.9" r="1.85"/>
<circle cx="183.2" cy="625.0" r="1.85"/>
<circle cx="183.2" cy="626.8" r="1.85"/>
<circle cx="189.4" cy="626.3" r="1.85"/>
<circle cx="189.4" cy="630.3" r="1.85"/>
<circle cx="189.4" cy="632.6" r="1.85"/>
<circle cx="201.4" cy="618.9" r="1.85"/>
<circle cx="201.4" cy="628.9" r="1.85"/>
<circle cx="201.4" cy="634.3" r="1.85"/>
<circle cx="208.1" cy="622.9" r="1.85"/>
<circle cx="213.9" cy="615.9" r="1.85"/>
<circle cx="232.9" cy="623.8" r="1.85"/>
<circle cx="244.8" cy="624.3" r="1.85"/>
<circle cx="251.3" cy="633.1" r="1.85"/>
<circle cx="263.5" cy="616.8" r="1.85"/>
<circle cx="281.9" cy="627.3" r="1.85"/>
<circle cx="300.3" cy="619.8" r="1.85"/>
<circle cx="306.8" cy="625.0" r="1.85"/>
<circle cx="313.1" cy="624.3" r="1.85"/>
<circle cx="319.1" cy="622.0" r="1.85"/>
<circle cx="331.9" cy="626.8" r="1.85"/>
<path d="M32.6,473.7 L32.6,652.0 L345.5,652.0" fill="none" stroke="#6a6a6a" stroke-width="1.3"/>
<line x1="30.0" y1="642.4" x2="32.6" y2="642.4" stroke="#6a6a6a" stroke-width="1.2"/>
<text transform="translate(27.900000000000002,647.30) scale(0.93,1)" text-anchor="end" font-size="10.0" fill="#3a3a3a">0</text>
<line x1="30.0" y1="602.1" x2="32.6" y2="602.1" stroke="#6a6a6a" stroke-width="1.2"/>
<text transform="translate(27.900000000000002,607.00) scale(0.93,1)" text-anchor="end" font-size="10.0" fill="#3a3a3a">25</text>
<line x1="30.0" y1="560.4" x2="32.6" y2="560.4" stroke="#6a6a6a" stroke-width="1.2"/>
<text transform="translate(27.900000000000002,565.30) scale(0.93,1)" text-anchor="end" font-size="10.0" fill="#3a3a3a">50</text>
<line x1="30.0" y1="519.6" x2="32.6" y2="519.6" stroke="#6a6a6a" stroke-width="1.2"/>
<text transform="translate(27.900000000000002,524.50) scale(0.93,1)" text-anchor="end" font-size="10.0" fill="#3a3a3a">75</text>
<line x1="30.0" y1="478.4" x2="32.6" y2="478.4" stroke="#6a6a6a" stroke-width="1.2"/>
<text transform="translate(27.900000000000002,483.30) scale(0.93,1)" text-anchor="end" font-size="10.0" fill="#3a3a3a">100</text>
<line x1="121.0" y1="652.0" x2="121.0" y2="654.6" stroke="#6a6a6a" stroke-width="1.2"/>
<text transform="translate(121.0,665.1) scale(0.93,1)" text-anchor="middle" font-size="10.0" fill="#3a3a3a">30</text>
<line x1="183.2" y1="652.0" x2="183.2" y2="654.6" stroke="#6a6a6a" stroke-width="1.2"/>
<text transform="translate(183.2,665.1) scale(0.93,1)" text-anchor="middle" font-size="10.0" fill="#3a3a3a">40</text>
<line x1="245.1" y1="652.0" x2="245.1" y2="654.6" stroke="#6a6a6a" stroke-width="1.2"/>
<text transform="translate(245.1,665.1) scale(0.93,1)" text-anchor="middle" font-size="10.0" fill="#3a3a3a">50</text>
<line x1="306.8" y1="652.0" x2="306.8" y2="654.6" stroke="#6a6a6a" stroke-width="1.2"/>
<text transform="translate(306.8,665.1) scale(0.93,1)" text-anchor="middle" font-size="10.0" fill="#3a3a3a">60</text>
<text x="148.4" y="676.9" font-size="10.2" fill="#222" textLength="81.2" lengthAdjust="spacingAndGlyphs">Species Abundance</text>
<text transform="translate(8.9,562.2) rotate(-90)" x="0" y="0" text-anchor="middle" font-size="10.0" fill="#222" textLength="31.2" lengthAdjust="spacingAndGlyphs">CaCO3</text>
<text x="46.4" y="491.8" font-size="9.8" fill="#111" textLength="27.5" lengthAdjust="spacingAndGlyphs"><tspan font-style="italic">R</tspan> = 0.2</text>
<text x="79.7" y="495.7" font-size="11.9" fill="#444" textLength="31.5" lengthAdjust="spacingAndGlyphs"><tspan font-style="italic" fill="#777">P</tspan> = 0.04</text>
<rect x="33.0" y="652.9" width="40.300000000000004" height="31.3" fill="#4472c4" stroke="#1f3763" stroke-width="1.4"/>
<text transform="translate(53.4,676.9) scale(0.88,1)" text-anchor="middle" font-family="\"Liberation Serif\", serif" font-size="18.6" fill="#000">E</text>
<path d="M391.50,582.37 L394.97,581.89 L398.44,581.41 L401.91,580.93 L405.38,580.44 L408.85,579.94 L412.32,579.45 L415.79,578.94 L419.26,578.44 L422.73,577.92 L426.20,577.40 L429.67,576.88 L433.14,576.34 L436.61,575.80 L440.08,575.25 L443.55,574.69 L447.02,574.12 L450.49,573.54 L453.96,572.95 L457.43,572.34 L460.90,571.72 L464.37,571.08 L467.84,570.42 L471.31,569.75 L474.78,569.05 L478.25,568.32 L481.72,567.58 L485.19,566.80 L488.66,565.99 L492.13,565.15 L495.60,564.28 L499.07,563.37 L502.54,562.42 L506.01,561.43 L509.48,560.39 L512.95,559.32 L516.42,558.20 L519.89,557.04 L523.36,555.84 L526.83,554.59 L530.30,553.30 L533.77,551.98 L537.24,550.62 L540.71,549.23 L544.18,547.80 L547.65,546.35 L551.12,544.86 L554.59,543.36 L558.06,541.83 L561.53,540.28 L565.00,538.71 L568.47,537.12 L571.94,535.51 L575.41,533.90 L578.88,532.27 L582.35,530.62 L585.82,528.97 L589.29,527.30 L592.76,525.63 L596.23,523.95 L599.70,522.26 L603.17,520.56 L606.64,518.86 L610.11,517.15 L613.58,515.43 L617.05,513.72 L620.52,511.99 L623.99,510.26 L627.46,508.53 L630.93,506.79 L634.40,505.05 L637.87,503.31 L641.34,501.56 L644.81,499.81 L648.28,498.06 L651.75,496.31 L655.22,494.55 L658.69,492.79 L662.16,491.03 L665.63,489.27 L669.10,487.51 L669.10,553.69 L665.63,554.15 L662.16,554.61 L658.69,555.07 L655.22,555.53 L651.75,555.99 L648.28,556.46 L644.81,556.93 L641.34,557.40 L637.87,557.87 L634.40,558.35 L630.93,558.83 L627.46,559.31 L623.99,559.80 L620.52,560.29 L617.05,560.78 L613.58,561.29 L610.11,561.79 L606.64,562.30 L603.17,562.82 L599.70,563.34 L596.23,563.87 L592.76,564.41 L589.29,564.96 L585.82,565.51 L582.35,566.08 L578.88,566.65 L575.41,567.24 L571.94,567.85 L568.47,568.46 L565.00,569.09 L561.53,569.74 L558.06,570.41 L554.59,571.10 L551.12,571.82 L547.65,572.55 L544.18,573.32 L540.71,574.11 L537.24,574.94 L533.77,575.80 L530.30,576.70 L526.83,577.63 L523.36,578.60 L519.89,579.62 L516.42,580.68 L512.95,581.78 L509.48,582.93 L506.01,584.11 L502.54,585.34 L499.07,586.61 L495.60,587.92 L492.13,589.27 L488.66,590.65 L485.19,592.06 L481.72,593.50 L478.25,594.98 L474.78,596.47 L471.31,597.99 L467.84,599.54 L464.37,601.10 L460.90,602.68 L457.43,604.28 L453.96,605.89 L450.49,607.52 L447.02,609.16 L443.55,610.81 L440.08,612.47 L436.61,614.14 L433.14,615.82 L429.67,617.50 L426.20,619.20 L422.73,620.90 L419.26,622.60 L415.79,624.32 L412.32,626.03 L408.85,627.76 L405.38,629.48 L401.91,631.21 L398.44,632.95 L394.97,634.69 L391.50,636.43Z" fill="#999999"/>
<line x1="391.5" y1="609.4" x2="669.1" y2="520.6" stroke="#000" stroke-width="1.0"/>
<circle cx="403.4" cy="503.3" r="1.85"/>
<circle cx="464.0" cy="498.0" r="1.85"/>
<circle cx="482.2" cy="492.8" r="1.85"/>
<circle cx="446.0" cy="513.8" r="1.85"/>
<circle cx="457.7" cy="518.9" r="1.85"/>
<circle cx="476.1" cy="534.0" r="1.85"/>
<circle cx="493.9" cy="554.8" r="1.85"/>
<circle cx="488.3" cy="569.9" r="1.85"/>
<circle cx="494.2" cy="569.9" r="1.85"/>
<circle cx="488.3" cy="585.5" r="1.85"/>
<circle cx="464.1" cy="600.7" r="1.85"/>
<circle cx="445.9" cy="605.9" r="1.85"/>
<circle cx="469.9" cy="605.9" r="1.85"/>
<circle cx="482.1" cy="610.7" r="1.85"/>
<circle cx="488.3" cy="610.7" r="1.85"/>
<circle cx="427.8" cy="626.4" r="1.85"/>
<circle cx="415.5" cy="631.3" r="1.85"/>
<circle cx="391.9" cy="639.0" r="1.85"/>
<circle cx="464.1" cy="631.3" r="1.85"/>
<circle cx="476.0" cy="636.6" r="1.85"/>
<circle cx="464.1" cy="641.8" r="1.85"/>
<circle cx="488.3" cy="641.9" r="1.85"/>
<circle cx="440.1" cy="647.1" r="1.85"/>
<circle cx="542.8" cy="487.9" r="1.85"/>
<circle cx="506.5" cy="503.3" r="1.85"/>
<circle cx="500.4" cy="508.4" r="1.85"/>
<circle cx="506.5" cy="513.8" r="1.85"/>
<circle cx="524.4" cy="508.4" r="1.85"/>
<circle cx="572.6" cy="508.4" r="1.85"/>
<circle cx="590.6" cy="508.4" r="1.85"/>
<circle cx="572.6" cy="524.1" r="1.85"/>
<circle cx="603.0" cy="528.7" r="1.85"/>
<circle cx="511.8" cy="539.2" r="1.85"/>
<circle cx="524.4" cy="539.2" r="1.85"/>
<circle cx="524.4" cy="544.5" r="1.85"/>
<circle cx="542.8" cy="539.2" r="1.85"/>
<circle cx="584.5" cy="544.3" r="1.85"/>
<circle cx="548.6" cy="549.6" r="1.85"/>
<circle cx="530.2" cy="560.1" r="1.85"/>
<circle cx="554.7" cy="575.1" r="1.85"/>
<circle cx="542.8" cy="580.2" r="1.85"/>
<circle cx="506.5" cy="585.5" r="1.85"/>
<circle cx="506.5" cy="610.7" r="1.85"/>
<circle cx="500.4" cy="615.9" r="1.85"/>
<circle cx="500.4" cy="626.4" r="1.85"/>
<circle cx="511.8" cy="626.4" r="1.85"/>
<circle cx="530.5" cy="621.2" r="1.85"/>
<circle cx="530.5" cy="626.4" r="1.85"/>
<circle cx="494.3" cy="642.0" r="1.85"/>
<circle cx="518.3" cy="642.0" r="1.85"/>
<circle cx="657.3" cy="503.1" r="1.85"/>
<circle cx="669.1" cy="508.4" r="1.85"/>
<circle cx="620.8" cy="524.1" r="1.85"/>
<circle cx="645.2" cy="559.8" r="1.85"/>
<circle cx="639.1" cy="565.1" r="1.85"/>
<circle cx="651.2" cy="569.8" r="1.85"/>
<path d="M377.9,478.9 L377.9,654.4 L683.2,654.4" fill="none" stroke="#7a7a7a" stroke-width="1.6"/>
<line x1="375.29999999999995" y1="651.8" x2="377.9" y2="651.8" stroke="#7a7a7a" stroke-width="1.3"/>
<text transform="translate(373.9,656.20) scale(0.94,1)" text-anchor="end" font-size="9.9" fill="#3a3a3a">0</text>
<line x1="375.29999999999995" y1="601.0" x2="377.9" y2="601.0" stroke="#7a7a7a" stroke-width="1.3"/>
<text transform="translate(373.9,605.40) scale(0.94,1)" text-anchor="end" font-size="9.9" fill="#3a3a3a">10</text>
<line x1="375.29999999999995" y1="549.4" x2="377.9" y2="549.4" stroke="#7a7a7a" stroke-width="1.3"/>
<text transform="translate(373.9,553.80) scale(0.94,1)" text-anchor="end" font-size="9.9" fill="#3a3a3a">20</text>
<line x1="375.29999999999995" y1="498.2" x2="377.9" y2="498.2" stroke="#7a7a7a" stroke-width="1.3"/>
<text transform="translate(373.9,502.60) scale(0.94,1)" text-anchor="end" font-size="9.9" fill="#3a3a3a">30</text>
<line x1="464.1" y1="654.4" x2="464.1" y2="657.0" stroke="#7a7a7a" stroke-width="1.3"/>
<text transform="translate(464.1,667.6) scale(0.94,1)" text-anchor="middle" font-size="9.9" fill="#3a3a3a">30</text>
<line x1="524.4" y1="654.4" x2="524.4" y2="657.0" stroke="#7a7a7a" stroke-width="1.3"/>
<text transform="translate(524.4,667.6) scale(0.94,1)" text-anchor="middle" font-size="9.9" fill="#3a3a3a">40</text>
<line x1="584.5" y1="654.4" x2="584.5" y2="657.0" stroke="#7a7a7a" stroke-width="1.3"/>
<text transform="translate(584.5,667.6) scale(0.94,1)" text-anchor="middle" font-size="9.9" fill="#3a3a3a">50</text>
<line x1="645.3" y1="654.4" x2="645.3" y2="657.0" stroke="#7a7a7a" stroke-width="1.3"/>
<text transform="translate(645.3,667.6) scale(0.94,1)" text-anchor="middle" font-size="9.9" fill="#3a3a3a">60</text>
<text x="491.0" y="678.5" font-size="9.5" fill="#222" textLength="77.8" lengthAdjust="spacingAndGlyphs">Species Abundance</text>
<text transform="translate(360.6,566.8) rotate(-90)" x="0" y="0" text-anchor="middle" font-size="9.3" fill="#222" textLength="71.8" lengthAdjust="spacingAndGlyphs">Moisture contents</text>
<text x="385.9" y="497.5" font-size="8.4" font-style="italic" fill="#333" stroke="#333" stroke-width="0.12" textLength="5.2" lengthAdjust="spacingAndGlyphs">R</text>
<text x="394.6" y="497.5" font-size="8.4" font-style="italic" fill="#333" stroke="#333" stroke-width="0.12" textLength="4.1" lengthAdjust="spacingAndGlyphs">=</text>
<text x="400.9" y="497.5" font-size="8.4" font-style="italic" fill="#333" stroke="#333" stroke-width="0.12" textLength="19.3" lengthAdjust="spacingAndGlyphs">0.47,</text>
<text x="422.7" y="497.5" font-size="8.4" font-style="italic" fill="#333" stroke="#333" stroke-width="0.12" textLength="10.1" lengthAdjust="spacingAndGlyphs">p=</text>
<text x="435.4" y="497.5" font-size="8.4" font-style="italic" fill="#333" stroke="#333" stroke-width="0.12" textLength="21.9" lengthAdjust="spacingAndGlyphs">0.002</text>
<rect x="377.0" y="654.6" width="43.70000000000003" height="30.8" fill="#4472c4" stroke="#1f3763" stroke-width="1.4"/>
<text transform="translate(398.9,678.1) scale(0.88,1)" text-anchor="middle" font-family="\"Liberation Serif\", serif" font-size="18.6" fill="#000">F</text>
</svg>
</body></html>
